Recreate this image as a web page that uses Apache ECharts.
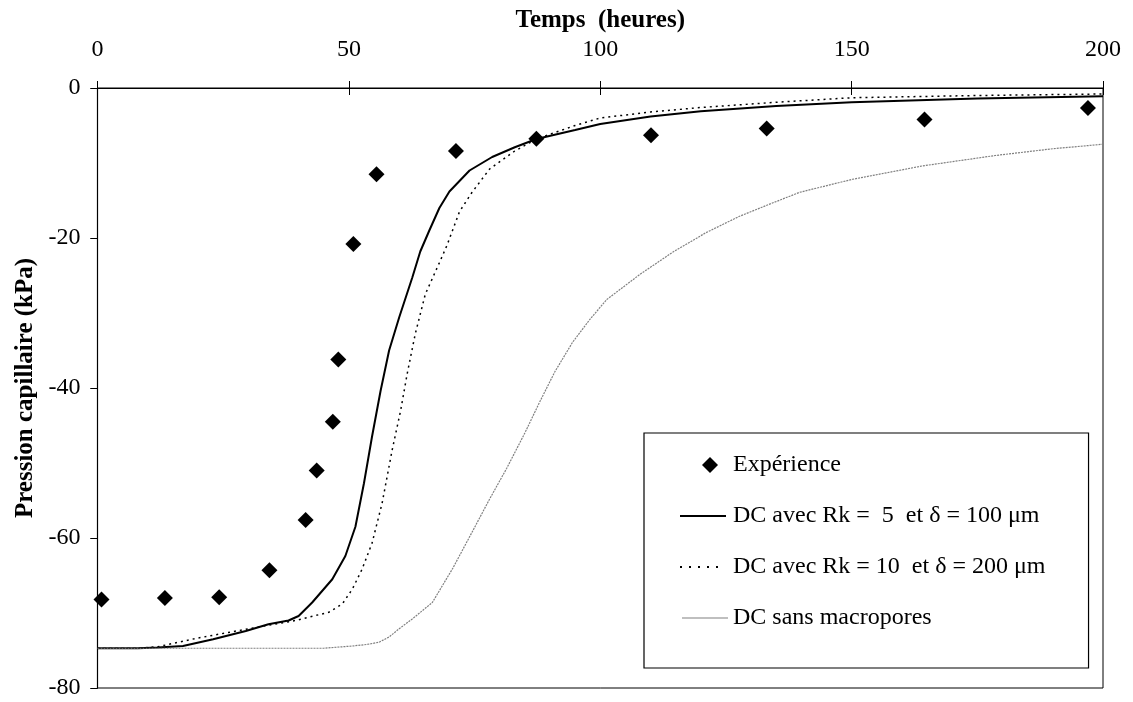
<!DOCTYPE html>
<html>
<head>
<meta charset="utf-8">
<script src="https://cdn.jsdelivr.net/npm/echarts@6/dist/echarts.min.js"></script>
<style>
  html, body { margin: 0; padding: 0; background: #fff; }
  #myChart { width: 1133px; height: 702px; }
</style>
</head>
<body>
<div id="myChart"></div>
<script>
// points mesurés (temps en heures, pression en kPa)
const expTime = [0.8, 13.4, 24.2, 34.2, 41.4, 43.6, 46.8, 47.9, 50.9, 55.5, 71.3, 87.3, 110.1, 133.1, 164.5, 197]
const expPressure = [-68.2, -68.0, -67.9, -64.3, -57.6, -51.0, -44.5, -36.2, -20.8, -11.5, -8.4, -6.75, -6.3, -5.4, -4.2, -2.65]

// DC avec Rk = 5
const rk5Time = [0, 8, 12, 17, 23, 29.5, 34, 38, 40, 42.7, 46.7, 49.3, 51.3, 53, 54.6, 56.3, 58, 60, 62.6, 64.2, 66, 68, 70, 74, 78.5, 83, 87.3, 95, 100, 110, 120, 135, 150, 175, 200]
const rk5Pressure = [-74.7, -74.7, -74.6, -74.4, -73.5, -72.4, -71.5, -71.0, -70.4, -68.6, -65.5, -62.4, -58.5, -52.7, -46.5, -40.4, -35, -30.6, -25.3, -21.8, -19, -16, -13.8, -11, -9.2, -7.9, -6.8, -5.6, -4.8, -3.8, -3.1, -2.4, -1.9, -1.4, -1.1]

// DC avec Rk = 10
const rk10Time = [0, 8, 12, 19.5, 26, 33.4, 39.4, 46, 48.7, 50.7, 52.6, 54.6, 56.6, 58.6, 60.3, 61.6, 63.2, 65.2, 68, 69.5, 72, 74.5, 78, 83, 87.3, 95, 100, 110, 120, 135, 150, 175, 200]
const rk10Pressure = [-74.7, -74.7, -74.5, -73.4, -72.6, -71.7, -71.0, -69.9, -68.8, -66.8, -64.2, -60.7, -55.4, -48.3, -43.0, -38.1, -32.8, -27.5, -23.3, -21, -16.5, -13.9, -10.8, -8.4, -6.8, -5.0, -4.0, -3.2, -2.6, -1.9, -1.3, -1.0, -0.8]

// DC sans macropores
const sansTime = [0, 45, 50.7, 53.5, 56, 58, 60, 62.6, 66.6, 70.7, 74.6, 78, 81.4, 85, 88, 91, 94.5, 98, 101.3, 108, 114.4, 121, 127.7, 134, 139.7, 150, 164, 178.6, 190, 200]
const sansPressure = [-74.7, -74.7, -74.4, -74.2, -73.9, -73.2, -72.1, -70.8, -68.6, -64, -59.1, -54.8, -50.7, -46, -41.8, -37.8, -33.9, -30.8, -28.2, -24.8, -21.9, -19.3, -17.1, -15.4, -13.9, -12.2, -10.4, -9.0, -8.1, -7.5]

const seriesNames = [
  'Expérience',
  'DC avec Rk =  5  et δ = 100 μm',
  'DC avec Rk = 10  et δ = 200 μm',
  'DC sans macropores'
]

const zip = (xs, ys) => xs.map((x, i) => [x, ys[i]])

// icônes de légende dessinées dans une boîte 48x16 (coins quasi invisibles pour fixer la taille)
const corners = 'M0,-1L0.01,-1L0,-0.99Z M48,15L47.99,15L48,14.99Z '
const icons = [
  'path://' + corners + 'M30,-1L38,7L30,15L22,7Z',
  'path://' + corners + 'M0,6H46V8H0Z',
  'path://' + corners + 'M0,6h2v2h-2z M9,6h2v2h-2z M18,6h2v2h-2z M27,6h2v2h-2z M36,6h2v2h-2z',
  'path://' + corners + 'M2,6.5H48V7.6H2Z'
]
const iconColors = ['#000', '#000', '#000', '#808080']

const font = 'Liberation Serif, Times New Roman, serif'
const labelStyle = { color: '#000', fontFamily: font, fontSize: 24 }

const myChart = echarts.init(document.getElementById('myChart'))

const option = {
  animation: false,
  backgroundColor: '#fff',
  grid: {
    left: 97.5,
    top: 88,
    right: 30,
    bottom: 14,
    show: true,
    borderColor: '#000',
    borderWidth: 1
  },
  legend: {
    orient: 'vertical',
    left: 644,
    top: 433,
    padding: [19, 43, 37, 36],
    itemGap: 25,
    itemWidth: 48,
    itemHeight: 16,
    backgroundColor: '#fff',
    borderColor: '#000',
    borderWidth: 1.2,
    textStyle: { color: '#000', fontFamily: font, fontSize: 24, lineHeight: 26 },
    data: seriesNames.map((name, i) => ({
      name,
      icon: icons[i],
      itemStyle: { color: iconColors[i], borderWidth: 0 }
    }))
  },
  xAxis: [
    {
      type: 'value',
      position: 'top',
      min: 0,
      max: 200,
      interval: 50,
      name: 'Temps  (heures)',
      nameLocation: 'middle',
      nameGap: 54,
      nameTextStyle: { color: '#000', fontFamily: font, fontSize: 25, fontWeight: 'bold' },
      axisLine: { lineStyle: { color: '#000', width: 1.2 } },
      axisTick: { length: 7, lineStyle: { color: '#000' } },
      axisLabel: { ...labelStyle, margin: 26 },
      splitLine: { show: false }
    },
    {
      // ticks vers l'intérieur, pour des graduations qui traversent l'axe
      type: 'value',
      position: 'top',
      min: 0,
      max: 200,
      interval: 50,
      axisLine: { show: false },
      axisTick: { inside: true, length: 7, lineStyle: { color: '#000' } },
      axisLabel: { show: false },
      splitLine: { show: false }
    }
  ],
  yAxis: [
    {
      type: 'value',
      min: -80,
      max: 0,
      interval: 20,
      name: 'Pression capillaire (kPa)',
      nameLocation: 'middle',
      nameGap: 58,
      nameTextStyle: { color: '#000', fontFamily: font, fontSize: 25, fontWeight: 'bold' },
      axisLine: { show: true, lineStyle: { color: '#000', width: 1.2 } },
      axisTick: { show: true, length: 7, lineStyle: { color: '#000' } },
      axisLabel: { ...labelStyle, margin: 17 },
      splitLine: { show: false }
    },
    {
      type: 'value',
      min: -80,
      max: 0,
      interval: 20,
      axisLine: { show: false },
      axisTick: { show: true, inside: true, length: 7, lineStyle: { color: '#000' } },
      axisLabel: { show: false },
      splitLine: { show: false }
    }
  ],
  series: [
    {
      name: seriesNames[0],
      type: 'scatter',
      symbol: 'diamond',
      symbolSize: 16,
      itemStyle: { color: '#000', opacity: 1 },
      data: zip(expTime, expPressure),
      z: 5
    },
    {
      name: seriesNames[1],
      type: 'line',
      symbol: 'none',
      lineStyle: { color: '#000', width: 2 },
      itemStyle: { color: '#000' },
      data: zip(rk5Time, rk5Pressure)
    },
    {
      name: seriesNames[2],
      type: 'line',
      symbol: 'none',
      lineStyle: { color: '#000', width: 1.5, type: [2, 4] },
      itemStyle: { color: '#000' },
      data: zip(rk10Time, rk10Pressure)
    },
    {
      name: seriesNames[3],
      type: 'line',
      symbol: 'none',
      lineStyle: { color: '#808080', width: 1.2, type: [2, 1] },
      itemStyle: { color: '#808080' },
      data: zip(sansTime, sansPressure)
    }
  ]
}

myChart.setOption(option)
</script>
</body>
</html>
